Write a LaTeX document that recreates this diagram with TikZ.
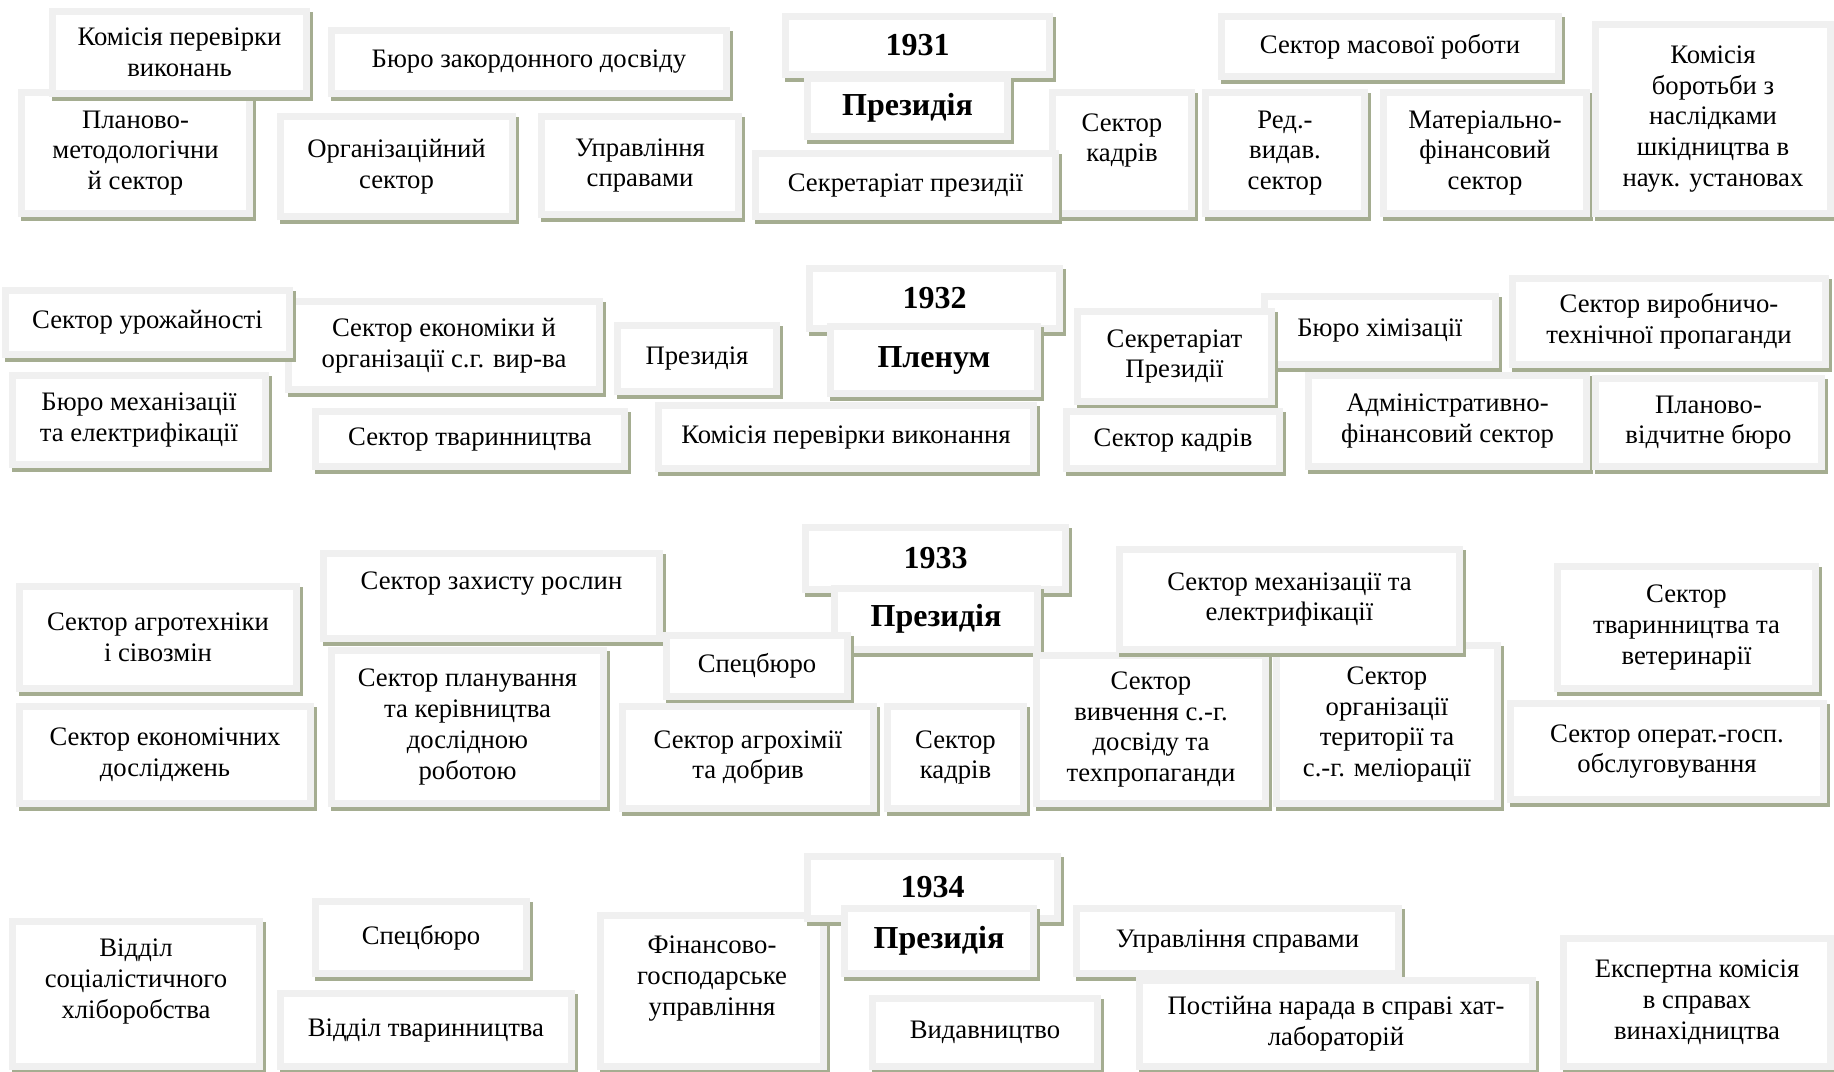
\documentclass[tikz,border=0pt]{standalone}
\usepackage{fontspec}
\setmainfont{Liberation Serif}
\usetikzlibrary{shadows}

\definecolor{framegray}{RGB}{240,240,240}
\definecolor{shadowgreen}{RGB}{165,173,145}

\tikzset{
  box/.style={rectangle, fill=white, draw=framegray, line width=7.5pt,
    inner sep=0pt, align=center, font=\fontsize{26.7}{30.8}\selectfont,
    drop shadow={shadow xshift=3pt, shadow yshift=-4pt, fill=shadowgreen,
      draw=shadowgreen, line width=7.5pt, opacity=1}},
  head/.style={box, font=\fontsize{32}{36}\selectfont\bfseries},
  sz/.style 2 args={minimum width=#1, minimum height=#2}
}

\begin{document}
\begin{tikzpicture}[x=1pt, y=-1pt]
      %% \draw [help lines, step=50] (0,0) grid (1834,1071);
      \useasboundingbox (0,0) rectangle (1834,1071);

      %% 1931
      \node [box, sz={228}{121}] (plan31) at (135.5,153) {Планово-\\методологічни\\й сектор};
      \node [box, sz={254}{82}] (kom31) at (179.5,52.5) {Комісія перевірки\\виконань};
      \node [box, sz={395}{63}] (buro31) at (529,62) {Бюро закордонного досвіду};
      \node [box, sz={232}{100}] (org31) at (396.5,166.5) {Організаційний\\сектор};
      \node [box, sz={197}{98}] (upr31) at (640,165.5) {Управління\\справами};
      \node [head, sz={264}{58}] (y1931) at (917.5,45.5) {1931};
      \node [head, sz={200}{58}] (prez31) at (907.5,107.5) {Президія};
      \node [box, sz={139}{121}] (kadr31) at (1122,153) {Сектор\\кадрів\\\mbox{}};
      \node [box, sz={300}{63}] (sekr31) at (905.5,185) {Секретаріат президії};
      \node [box, sz={159}{121}] (red31) at (1285,153) {Ред.-\\видав.\\сектор};
      \node [box, sz={337}{60}] (mas31) at (1390,46.5) {Сектор масової роботи};
      \node [box, sz={203}{121}] (mat31) at (1485,153) {Матеріально-\\фінансовий\\сектор};
      \node [box, sz={235}{189}] (bor31) at (1713,119) {Комісія\\боротьби з\\наслідками\\шкідництва в\\наук. установах};

      %% 1932
      \node [box, sz={311}{88}] (ekon32) at (444,345.5) {Сектор економіки й\\організації с.г. вир-ва};
      \node [box, sz={284}{64}] (urozh32) at (147.5,322.5) {Сектор урожайності};
      \node [box, sz={159}{66}] (prez32) at (697,358.5) {Президія};
      \node [head, sz={250}{60}] (y1932) at (934.5,298.5) {1932};
      \node [head, sz={207}{67}] (plen32) at (934,360) {Пленум};
      \node [box, sz={231}{68}] (him32) at (1380,330.5) {Бюро хімізації};
      \node [box, sz={194}{90}] (sekr32) at (1174.5,356.5) {Секретаріат\\Президії};
      \node [box, sz={313}{86}] (vyr32) at (1669,321.5) {Сектор виробничо-\\технічної пропаганди};
      \node [box, sz={253}{89}] (meh32) at (139,420) {Бюро механізації\\та електрифікації};
      \node [box, sz={309}{55}] (tvar32) at (470,439) {Сектор тваринництва};
      \node [box, sz={375}{63}] (komp32) at (846,437) {Комісія перевірки виконання};
      \node [box, sz={213}{57}] (kadr32) at (1173,440) {Сектор кадрів};
      \node [box, sz={278}{91}] (adm32) at (1447.5,421) {Адміністративно-\\фінансовий сектор};
      \node [box, sz={226}{88}] (plan32) at (1708.5,422.5) {Планово-\\відчитне бюро};

      %% 1933
      \node [head, sz={260}{62}] (y1933) at (935.5,558.5) {1933};
      \node [head, sz={203}{61}] (prez33) at (936,619) {Президія};
      \node [box, sz={277}{102}] (agro33) at (158,637.5) {Сектор агротехніки\\і сівозмін};
      \node [box, sz={336}{85}] (zah33) at (491.5,596) {Сектор захисту рослин\\\mbox{}};
      \node [box, sz={291}{97}] (ekd33) at (165,755) {Сектор економічних\\досліджень};
      \node [box, sz={272}{153}] (plk33) at (467.5,727) {Сектор планування\\та керівництва\\дослідною\\роботою};
      \node [box, sz={181}{61}] (spec33) at (757,666) {Спецбюро};
      \node [box, sz={251}{102}] (agh33) at (748,757.5) {Сектор агрохімії\\та добрив};
      \node [box, sz={136}{102}] (kadr33) at (955.5,757.5) {Сектор\\кадрів};
      \node [box, sz={221}{158}] (ter33) at (1387,724.5) {Сектор\\організації\\території та\\с.-г. меліорації};
      \node [box, sz={229}{148}] (vyv33) at (1151,729.5) {Сектор\\вивчення с.-г.\\досвіду та\\техпропаганди};
      \node [box, sz={340}{100}] (meh33) at (1289.5,599.5) {Сектор механізації та\\електрифікації};
      \node [box, sz={258}{122}] (tvv33) at (1686.5,627.5) {Сектор\\тваринництва та\\ветеринарії};
      \node [box, sz={313}{96}] (oper33) at (1667,751.5) {Сектор операт.-госп.\\обслуговування};

      %% 1934
      \node [box, sz={247}{145}] (soc34) at (136,994) {Відділ\\соціалістичного\\хліборобства\\\mbox{}};
      \node [box, sz={211}{72}] (spec34) at (421,937.5) {Спецбюро};
      \node [box, sz={291}{73}] (tvar34) at (426,1030) {Відділ тваринництва};
      \node [box, sz={223}{151}] (fin34) at (712,991) {Фінансово-\\господарське\\управління\\\mbox{}};
      \node [head, sz={250}{62}] (y1934) at (932.5,887.5) {1934};
      \node [head, sz={189}{65}] (prez34) at (939,941) {Президія};
      \node [box, sz={225}{68}] (vyd34) at (985,1032.5) {Видавництво};
      \node [box, sz={322}{65}] (upr34) at (1237.5,941) {Управління справами};
      \node [box, sz={393}{86}] (post34) at (1336,1023.5) {Постійна нарада в справі хат-\\лабораторій};
      \node [box, sz={267}{128}] (eksp34) at (1697,1002.5) {Експертна комісія\\в справах\\винахідництва};

\end{tikzpicture}
\end{document}
